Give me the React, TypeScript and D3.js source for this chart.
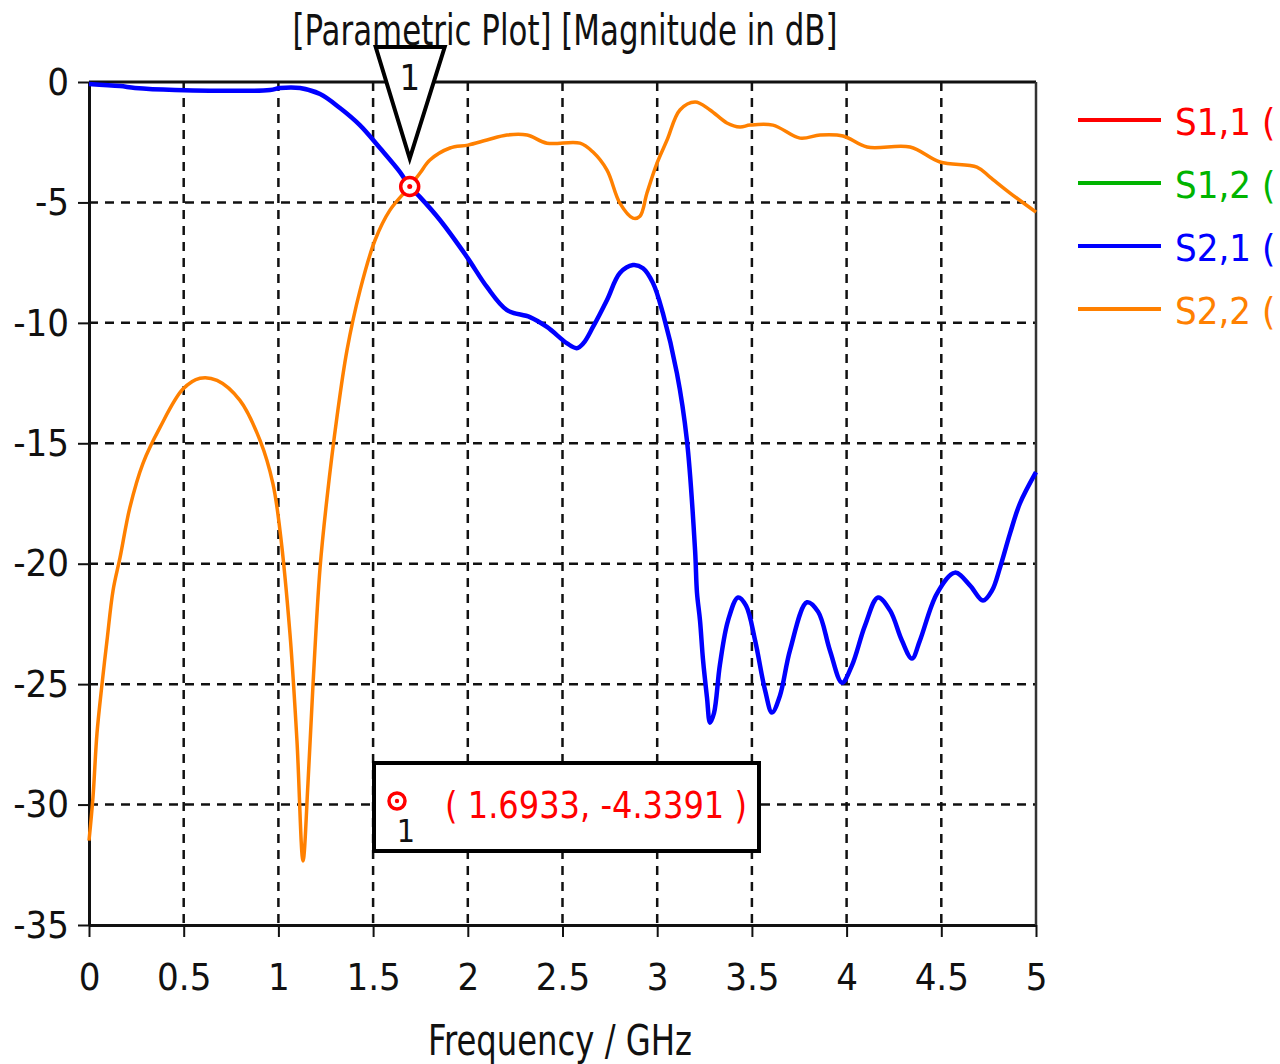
import { useEffect, useRef } from 'react'
import * as d3 from 'd3'

// S2,1 magnitude (dB) vs frequency (GHz)
const s21Freq = [0, 0.164, 0.243, 0.454, 0.956, 1.008, 1.114, 1.22, 1.325, 1.43, 1.536, 1.642, 1.6933, 1.748, 1.853, 1.996, 2.101, 2.207, 2.328, 2.418, 2.524, 2.575, 2.61, 2.661, 2.735, 2.803, 2.872, 2.925, 2.978, 3.03, 3.104, 3.157, 3.2, 3.21, 3.226, 3.242, 3.263, 3.279, 3.3, 3.331, 3.374, 3.427, 3.469, 3.517, 3.57, 3.606, 3.648, 3.701, 3.791, 3.85, 3.912, 3.976, 4.028, 4.097, 4.166, 4.23, 4.292, 4.345, 4.387, 4.477, 4.572, 4.651, 4.72, 4.768, 4.81, 4.863, 4.915, 5.0]
const s21Mag = [-0.08, -0.17, -0.25, -0.33, -0.33, -0.25, -0.25, -0.5, -1.08, -1.79, -2.74, -3.74, -4.339, -4.78, -5.73, -7.27, -8.51, -9.47, -9.76, -10.17, -10.85, -11.05, -10.85, -10.17, -9.05, -7.93, -7.6, -7.73, -8.35, -9.6, -12.09, -14.88, -19.45, -21.2, -22.36, -24.0, -25.56, -26.6, -26.2, -24.2, -22.36, -21.4, -21.74, -23.19, -25.27, -26.18, -25.48, -23.6, -21.6, -22.0, -23.6, -24.94, -24.23, -22.57, -21.4, -21.95, -23.19, -23.94, -23.19, -21.24, -20.37, -20.9, -21.53, -21.11, -20.16, -18.74, -17.5, -16.2]

// S2,2 magnitude (dB) vs frequency (GHz)
const s22Freq = [0, 0.021, 0.042, 0.069, 0.095, 0.127, 0.164, 0.216, 0.285, 0.375, 0.496, 0.586, 0.676, 0.797, 0.903, 0.971, 1.008, 1.061, 1.098, 1.13, 1.156, 1.183, 1.22, 1.257, 1.309, 1.362, 1.431, 1.51, 1.589, 1.6933, 1.748, 1.8, 1.906, 2.001, 2.101, 2.207, 2.313, 2.418, 2.592, 2.661, 2.735, 2.803, 2.872, 2.909, 2.946, 2.999, 3.052, 3.12, 3.2, 3.279, 3.368, 3.437, 3.49, 3.611, 3.754, 3.86, 3.981, 4.108, 4.335, 4.493, 4.688, 4.757, 4.863, 5.0]
const s22Mag = [-31.5, -29.7, -27.06, -24.98, -23.19, -21.11, -19.74, -17.66, -15.83, -14.34, -12.75, -12.3, -12.39, -13.22, -14.88, -16.67, -18.6, -22.9, -27.35, -32.34, -29.14, -24.98, -20.16, -17.25, -13.92, -11.14, -8.65, -6.57, -5.32, -4.339, -3.78, -3.24, -2.74, -2.62, -2.41, -2.2, -2.2, -2.54, -2.54, -2.91, -3.66, -5.03, -5.65, -5.57, -4.61, -3.37, -2.41, -1.16, -0.83, -1.16, -1.7, -1.87, -1.79, -1.79, -2.33, -2.2, -2.24, -2.7, -2.7, -3.32, -3.53, -3.95, -4.61, -5.4]

const xTicks = [0, 0.5, 1, 1.5, 2, 2.5, 3, 3.5, 4, 4.5, 5]
const yTicks = [0, -5, -10, -15, -20, -25, -30, -35]

const legendNames = ['S1,1 (', 'S1,2 (', 'S2,1 (', 'S2,2 (']
const legendColors = ['#ff0000', '#00b400', '#0000ff', '#ff8000']

const markerFreq = 1.6933
const markerMag = -4.3391

const FONT = '"DejaVu Sans Condensed", "DejaVu Sans", sans-serif'

const App = () => {
  const svgRef = useRef<SVGSVGElement>(null)

  useEffect(() => {
    const width = 1280
    const height = 1064
    const left = 89, right = 1036, top = 82, bottom = 925

    const svg = d3.select(svgRef.current)
    svg.selectAll('*').remove()
    svg.attr('width', width).attr('height', height)
      .style('font-family', FONT)

    svg.append('rect').attr('width', width).attr('height', height).attr('fill', '#fff')

    const x = d3.scaleLinear().domain([0, 5]).range([left, right])
    const y = d3.scaleLinear().domain([-35, 0]).range([bottom, top])

    // grid
    const grid = svg.append('g').attr('stroke', '#111').attr('stroke-width', 2.5)
      .attr('stroke-dasharray', '9,7')
    grid.selectAll('.gx').data(xTicks.slice(1, -1)).join('line')
      .attr('x1', d => x(d)).attr('x2', d => x(d)).attr('y1', top).attr('y2', bottom)
    grid.selectAll('.gy').data(yTicks.slice(1, -1)).join('line')
      .attr('y1', d => y(d)).attr('y2', d => y(d)).attr('x1', left).attr('x2', right)

    // axes
    const xAxis = d3.axisBottom(x).tickValues(xTicks).tickSize(12).tickSizeOuter(0)
      .tickFormat(d => String(d))
    const gx = svg.append('g').attr('transform', `translate(0,${bottom})`).call(xAxis)
    gx.select('.domain').attr('stroke', '#111').attr('stroke-width', 3)
    gx.selectAll('.tick line').attr('stroke', '#111').attr('stroke-width', 2)
    gx.selectAll('.tick text').attr('font-family', FONT).attr('font-size', 38)
      .attr('fill', '#111').attr('y', 38)

    const yAxis = d3.axisLeft(y).tickValues(yTicks).tickSize(11).tickSizeOuter(0)
      .tickFormat(d => String(d))
    const gy = svg.append('g').attr('transform', `translate(${left},0)`).call(yAxis)
    gy.select('.domain').attr('stroke', '#111').attr('stroke-width', 3)
    gy.selectAll('.tick line').attr('stroke', '#111').attr('stroke-width', 2)
    gy.selectAll('.tick text').attr('font-family', FONT).attr('font-size', 38)
      .attr('fill', '#111').attr('x', -20)

    // top and right frame
    svg.append('line').attr('x1', left).attr('x2', right).attr('y1', top).attr('y2', top)
      .attr('stroke', '#111').attr('stroke-width', 3)
    svg.append('line').attr('x1', right).attr('x2', right).attr('y1', top).attr('y2', bottom)
      .attr('stroke', '#333').attr('stroke-width', 2.5)

    // curves
    const line = d3.line<[number, number]>()
      .x(d => x(d[0])).y(d => y(d[1]))
      .curve(d3.curveCatmullRom.alpha(0.5))

    const s22: [number, number][] = s22Freq.map((f, i) => [f, s22Mag[i]])
    const s21: [number, number][] = s21Freq.map((f, i) => [f, s21Mag[i]])

    svg.append('path').attr('d', line(s22)).attr('fill', 'none')
      .attr('stroke', '#ff8000').attr('stroke-width', 3.5).attr('stroke-linejoin', 'round')
    svg.append('path').attr('d', line(s21)).attr('fill', 'none')
      .attr('stroke', '#0000ff').attr('stroke-width', 4.5).attr('stroke-linejoin', 'round')

    // marker triangle
    const mx = x(markerFreq), my = y(markerMag)
    svg.append('path')
      .attr('d', `M${mx - 34},47 L${mx + 35},47 L${mx},${my - 28} Z`)
      .attr('fill', '#fff').attr('stroke', '#000').attr('stroke-width', 4)
      .attr('stroke-linejoin', 'miter')
    svg.append('text').attr('x', mx).attr('y', 90).attr('text-anchor', 'middle')
      .attr('font-size', 36).attr('fill', '#111').text('1')

    // marker point
    svg.append('circle').attr('cx', mx).attr('cy', my).attr('r', 9)
      .attr('fill', '#fff').attr('stroke', '#ff0000').attr('stroke-width', 3.5)
    svg.append('circle').attr('cx', mx).attr('cy', my).attr('r', 2.5).attr('fill', '#ff0000')

    // title
    svg.append('text').attr('x', 565).attr('y', 45).attr('text-anchor', 'middle')
      .attr('font-size', 42).attr('fill', '#111')
      .attr('textLength', 545).attr('lengthAdjust', 'spacingAndGlyphs')
      .text('[Parametric Plot] [Magnitude in dB]')

    // x-axis label
    svg.append('text').attr('x', 560).attr('y', 1055).attr('text-anchor', 'middle')
      .attr('font-size', 42).attr('fill', '#111')
      .attr('textLength', 264).attr('lengthAdjust', 'spacingAndGlyphs')
      .text('Frequency / GHz')

    // annotation box
    const box = svg.append('g')
    box.append('rect').attr('x', 374).attr('y', 763).attr('width', 385).attr('height', 88)
      .attr('fill', '#fff').attr('stroke', '#000').attr('stroke-width', 4)
    box.append('circle').attr('cx', 397).attr('cy', 801).attr('r', 8)
      .attr('fill', '#fff').attr('stroke', '#ff0000').attr('stroke-width', 3.5)
    box.append('circle').attr('cx', 397).attr('cy', 801).attr('r', 2.2).attr('fill', '#ff0000')
    box.append('text').attr('x', 406).attr('y', 842).attr('text-anchor', 'middle')
      .attr('font-size', 32).attr('fill', '#111').text('1')
    box.append('text').attr('x', 445).attr('y', 818)
      .attr('font-size', 38).attr('fill', '#ff0000')
      .attr('textLength', 302).attr('lengthAdjust', 'spacingAndGlyphs')
      .text(`( ${markerFreq}, ${markerMag} )`)

    // legend
    const rows = svg.append('g').selectAll('g').data(legendNames).join('g')
      .attr('transform', (d, i) => `translate(0,${120 + i * 63})`)
    rows.append('line').attr('x1', 1078).attr('x2', 1161).attr('y1', 0).attr('y2', 0)
      .attr('stroke', (d, i) => legendColors[i]).attr('stroke-width', 4)
    rows.append('text').attr('x', 1175).attr('y', 15)
      .attr('font-size', 38).attr('fill', (d, i) => legendColors[i])
      .text(d => d)
  }, [])

  return (
    <div style={{ position: 'absolute', left: 0, top: 0 }}>
      <svg ref={svgRef}></svg>
    </div>
  )
}

export default App
